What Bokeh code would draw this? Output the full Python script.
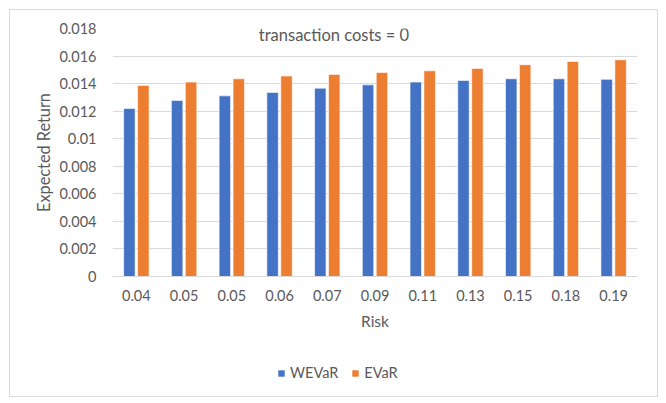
from bokeh.plotting import figure
from bokeh.layouts import column
from bokeh.models import Range1d, FixedTicker, Label, Legend, LegendItem, ColumnDataSource
from bokeh.transform import dodge
from bokeh.embed import file_html
from bokeh.resources import INLINE

risk_labels = ["0.04", "0.05", "0.05", "0.06", "0.07", "0.09", "0.11", "0.13", "0.15", "0.18", "0.19"]
wevar = [0.01220, 0.01278, 0.01311, 0.01336, 0.01367, 0.01391, 0.01411, 0.01423, 0.01435, 0.01435, 0.01431]
evar = [0.01387, 0.01411, 0.01435, 0.01455, 0.01467, 0.01481, 0.01493, 0.01510, 0.01537, 0.01561, 0.01573]
y_ticks = [0, 0.002, 0.004, 0.006, 0.008, 0.01, 0.012, 0.014, 0.016, 0.018]
y_tick_labels = ["0", "0.002", "0.004", "0.006", "0.008", "0.01", "0.012", "0.014", "0.016", "0.018"]

FONT = "Lato"
TXT = "#595959"
GRID = "#d9d9d9"
BLUE = "#4472C4"
ORANGE = "#ED7D31"

idx = list(range(1, len(risk_labels) + 1))
src = ColumnDataSource(dict(x=idx, wevar=wevar, evar=evar))

W = 647
p = figure(width=W, height=330, output_backend="svg", toolbar_location=None,
           x_range=Range1d(0.5, len(risk_labels) + 0.5), y_range=Range1d(0, 0.018),
           min_border_left=102, min_border_right=20, min_border_top=18, min_border_bottom=64)
p.outline_line_color = None

r1 = p.vbar(x=dodge("x", -0.146), top="wevar", width=0.24, source=src,
            fill_color=BLUE, line_color="white", line_width=0.6)
r2 = p.vbar(x=dodge("x", 0.146), top="evar", width=0.24, source=src,
            fill_color=ORANGE, line_color="white", line_width=0.6)

p.xaxis.ticker = FixedTicker(ticks=idx)
p.xaxis.major_label_overrides = {i: lab for i, lab in zip(idx, risk_labels)}
p.xaxis.axis_label = "Risk"
p.xaxis.axis_line_color = GRID
p.xaxis.major_label_standoff = 13
p.xaxis.axis_label_standoff = 8

p.yaxis.ticker = FixedTicker(ticks=y_ticks)
p.yaxis.major_label_overrides = {t: l for t, l in zip(y_ticks, y_tick_labels)}
p.yaxis.axis_label = "Expected Return"
p.yaxis.axis_line_color = None
p.yaxis.major_label_standoff = 16
p.yaxis.axis_label_standoff = 3

for ax in (p.xaxis, p.yaxis):
    ax.major_tick_line_color = None
    ax.minor_tick_line_color = None
    ax.major_tick_out = 0
    ax.major_tick_in = 0
    ax.minor_tick_out = 0
    ax.minor_tick_in = 0
    ax.major_label_text_font = FONT
    ax.major_label_text_font_size = "14.5px"
    ax.major_label_text_color = TXT
    ax.axis_label_text_font = FONT
    ax.axis_label_text_font_style = "normal"
    ax.axis_label_text_color = TXT
p.xaxis.axis_label_text_font_size = "15.5px"
p.yaxis.axis_label_text_font_size = "16.3px"

p.xgrid.grid_line_color = None
p.ygrid.grid_line_color = GRID
p.ygrid.grid_line_width = 1

title = Label(x=5.14, y=0.01756, text="transaction costs = 0", text_align="center",
              text_baseline="middle", text_font=FONT, text_font_size="16.5px", text_color=TXT)
p.add_layout(title)

# legend strip below the chart (its frame is aligned with the chart's frame by the column)
lg = figure(width=W, height=56, output_backend="svg", toolbar_location=None,
            x_axis_type=None, y_axis_type=None, x_range=Range1d(0, 1), y_range=Range1d(0, 1),
            min_border_left=102, min_border_right=20, min_border_top=6, min_border_bottom=0)
lg.outline_line_color = None
lg.xgrid.grid_line_color = None
lg.ygrid.grid_line_color = None
dummy = ColumnDataSource(dict(x=[float("nan")], top=[float("nan")]))
l1 = lg.vbar(x="x", top="top", width=0.1, source=dummy, fill_color=BLUE, line_color=None)
l2 = lg.vbar(x="x", top="top", width=0.1, source=dummy, fill_color=ORANGE, line_color=None)
legend = Legend(items=[LegendItem(label="WEVaR", renderers=[l1]),
                       LegendItem(label="EVaR", renderers=[l2])],
                location=(165, 15), orientation="horizontal",
                glyph_width=8, glyph_height=8, label_standoff=5, spacing=13,
                padding=0, margin=0, border_line_color=None, background_fill_alpha=0,
                label_text_font=FONT, label_text_font_size="14.5px", label_text_color=TXT)
lg.add_layout(legend, "center")

layout = column(p, lg, spacing=0)
layout.styles = {"border": "1px solid #d9d9d9", "margin": "9px 0 0 9px", "width": "649px",
                 "height": "388px", "box-sizing": "border-box", "background": "white"}

open("out.html", "w").write(file_html(layout, INLINE))
